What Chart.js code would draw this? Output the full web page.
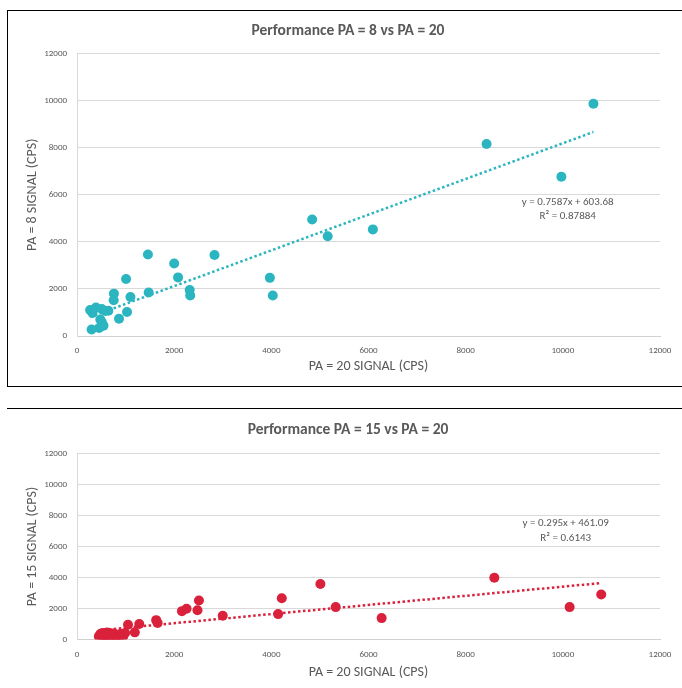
<!DOCTYPE html>
<html><head><meta charset="utf-8">
<script src="https://cdn.jsdelivr.net/npm/chart.js@4"></script>
<style>
html,body{margin:0;padding:0;background:#fff;width:682px;height:688px;overflow:hidden;position:relative}
#box1{position:absolute;left:7px;top:10px;width:740px;height:377px;border:1.5px solid #000;box-sizing:border-box}
#sep{position:absolute;left:7px;top:408px;width:740px;height:0;border-top:1.5px solid #000}
canvas{position:absolute}
#c1{left:8px;top:12px}
#c2{left:8px;top:410px}
</style>
</head><body>
<div id="box1"></div>
<div id="sep"></div>
<canvas id="c1" width="680" height="374"></canvas>
<canvas id="c2" width="680" height="278"></canvas>
<script>
// ---- data: chart 1 (PA = 8 vs PA = 20) ----
const pa20_a = [10630, 8430, 9970, 4840, 5160, 6090, 3970, 4030, 2830, 1460, 2000, 2080, 1010, 1475, 2320, 2330, 760, 755, 1100, 1030, 865, 270, 320, 390, 510, 645, 580, 480, 510, 545, 455, 300];
const pa8    = [9870, 8160, 6770, 4950, 4240, 4530, 2470, 1720, 3440, 3460, 3080, 2490, 2420, 1850, 1950, 1720, 1800, 1520, 1660, 1020, 730, 1100, 980, 1210, 1150, 1070, 1060, 700, 590, 440, 340, 275];
const slope1 = 0.7587, intercept1 = 603.68;
const eq1 = ["y = 0.7587x + 603.68", "R² = 0.87884"];

// ---- data: chart 2 (PA = 15 vs PA = 20) ----
const pa20_b = [8590, 10790, 10140, 5010, 4215, 4140, 5325, 6270, 3000, 2510, 2480, 2255, 2160, 1630, 1660, 1282, 1190, 1050, 450, 480, 520, 560, 600, 640, 680, 720, 760, 800, 850, 900, 950, 990, 530, 700, 620, 870];
const pa15   = [3990, 2900, 2090, 3580, 2660, 1640, 2090, 1380, 1530, 2520, 1890, 1980, 1830, 1250, 1060, 995, 460, 950, 200, 350, 120, 280, 150, 300, 400, 250, 380, 180, 300, 350, 200, 420, 420, 130, 450, 150];
const slope2 = 0.295, intercept2 = 461.09;
const eq2 = ["y = 0.295x + 461.09", "R² = 0.6143"];

const xTicks = [0, 2000, 4000, 6000, 8000, 10000, 12000];
const yTicks = [0, 2000, 4000, 6000, 8000, 10000, 12000];

const FONT = "Carlito, Lato, sans-serif";
const GREY = '#595959';

function makeChart(id, xs, ys, color, slope, intercept, title, xTitle, yTitle, eq, eqAnchor, geo) {
  const pts = xs.map((x, i) => ({x, y: ys[i]}));
  const minX = Math.min(...xs), maxX = Math.max(...xs);
  const trend = [{x: minX, y: slope * minX + intercept}, {x: maxX, y: slope * maxX + intercept}];
  const eqPlugin = {
    id: 'eq',
    afterDatasetsDraw(chart) {
      const ctx = chart.ctx;
      const px = chart.scales.x.getPixelForValue(eqAnchor[0]);
      const py = chart.scales.y.getPixelForValue(eqAnchor[1]);
      ctx.save();
      ctx.font = "11px " + FONT;
      ctx.fillStyle = GREY;
      ctx.textAlign = 'center';
      ctx.textBaseline = 'middle';
      ctx.fillText(eq[0], px, py);
      ctx.fillText(eq[1], px, py + 14.5);
      ctx.restore();
    }
  };
  return new Chart(document.getElementById(id), {
    type: 'scatter',
    data: {
      datasets: [
        {data: pts, backgroundColor: color, borderColor: color, pointRadius: 5, pointHoverRadius: 5, borderWidth: 0, order: 1},
        {type: 'line', data: trend, borderColor: color, borderWidth: 2.5, borderDash: [2.5, 2.5], pointRadius: 0, fill: false, order: 2}
      ]
    },
    options: {
      responsive: false,
      animation: false,
      layout: {padding: 0},
      plugins: {
        legend: {display: false},
        tooltip: {enabled: false},
        title: {display: true, text: title, color: GREY, font: {family: FONT, size: 15.5, weight: 'bold'}, padding: {top: geo.tTop, bottom: geo.tBot}}
      },
      scales: {
        x: {
          type: 'linear', min: 0, max: 12000,
          afterBuildTicks: s => { s.ticks = xTicks.map(v => ({value: v})); },
          afterFit: s => { s.height = geo.xH; },
          grid: {display: false, drawTicks: false},
          border: {display: true, color: '#d0d0d0', width: 1},
          ticks: {color: GREY, font: {family: FONT, size: 9}, padding: geo.xPad, maxRotation: 0, callback: v => String(v)},
          title: {display: true, text: xTitle, color: GREY, font: {family: FONT, size: 14}, padding: {top: 0, bottom: geo.xtBot}}
        },
        y: {
          type: 'linear', min: 0, max: 12000,
          afterBuildTicks: s => { s.ticks = yTicks.map(v => ({value: v})); },
          afterFit: s => { s.width = 69; },
          grid: {color: '#d9d9d9', lineWidth: 1, drawTicks: false},
          border: {display: true, color: '#d9d9d9', width: 1},
          ticks: {color: GREY, font: {family: FONT, size: 9}, padding: 10, callback: v => String(v)},
          title: {display: true, text: yTitle, color: GREY, font: {family: FONT, size: 14}, padding: {top: 16, bottom: 0}}
        },
        yR: {
          type: 'linear', position: 'right', display: true,
          afterFit: s => { s.width = 28; },
          grid: {display: false, drawTicks: false},
          border: {display: false},
          ticks: {display: false}
        }
      }
    },
    plugins: [eqPlugin]
  });
}

makeChart('c1', pa20_a, pa8, '#2BB5C0', slope1, intercept1,
  'Performance PA = 8 vs PA = 20', 'PA = 20 SIGNAL (CPS)', 'PA = 8 SIGNAL (CPS)',
  eq1, [10100, 5700], {tTop: 10, tBot: 13, xH: 50, xPad: 9, xtBot: 11});

makeChart('c2', pa20_b, pa15, '#DA213C', slope2, intercept2,
  'Performance PA = 15 vs PA = 20', 'PA = 20 SIGNAL (CPS)', 'PA = 15 SIGNAL (CPS)',
  eq2, [10060, 7480], {tTop: 11, tBot: 14, xH: 48.5, xPad: 10, xtBot: 7});
</script>
</body></html>
